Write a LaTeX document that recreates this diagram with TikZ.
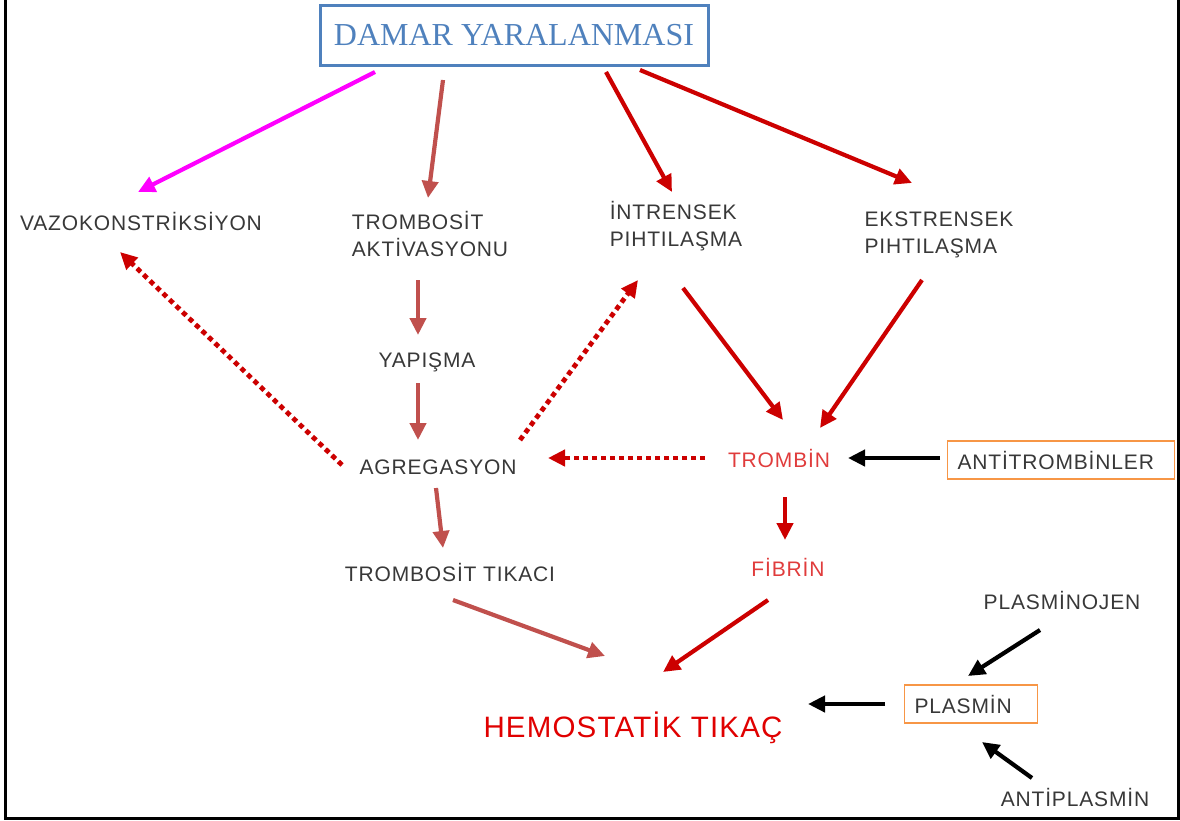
\documentclass[tikz,border=0pt]{standalone}
\usepackage{fontspec}
\newfontfamily\etiket{Liberation Sans}[LetterSpace=4]
\newfontfamily\baslik{Liberation Serif}
\usepackage{tikz}
\usetikzlibrary{arrows.meta,calc}

\definecolor{mavi}{HTML}{4F81BD}
\definecolor{pembe}{HTML}{FF00FF}
\definecolor{somon}{HTML}{C0504D}
\definecolor{kirmizi}{HTML}{CC0000}
\definecolor{acikkirmizi}{HTML}{E03C3C}
\definecolor{turuncu}{HTML}{F79646}
\definecolor{gri}{HTML}{383838}

\tikzset{
	etk/.style={font=\etiket\fontsize{21}{27}\selectfont, text=gri, inner sep=0pt, align=left},
	kutu/.style={etk, draw=turuncu, line width=1.5pt, inner xsep=10pt, minimum height=38pt},
	ok/.style={line width=4.2pt, -{Triangle[length=17pt,width=16pt]}},
	nok/.style={ok, kirmizi, line width=4.8pt, dash pattern=on 5pt off 4pt}
}

\begin{document}
\begin{tikzpicture}[x=1pt,y=-1pt]
	\useasboundingbox (0,0) rectangle (1180,820);
	\draw[line width=3pt] (5,0) -- (5,818) -- (1178,818) -- (1178,0);

	\node[draw=mavi, line width=3pt, minimum width=388pt, minimum height=60pt, text=mavi, font=\baslik\fontsize{32}{32}\selectfont] (hasar) at (514,35) {DAMAR YARALANMASI};

	\node[etk] (vazo) at (141,221) {VAZOKONSTR\.IKS\.IYON};
	\node[etk] (aktiv) at (430,234) {TROMBOS\.IT\\AKT\.IVASYONU};
	\node[etk] (intr) at (676,226) {\.INTRENSEK\\PIHTILAŞMA};
	\node[etk] (ekst) at (939,235) {EKSTRENSEK\\PIHTILAŞMA};
	\node[etk] (yap) at (427,362) {YAPIŞMA};
	\node[etk] (agr) at (438,467) {AGREGASYON};
	\node[etk, text=acikkirmizi] (trombin) at (779,458) {TROMB\.IN};
	\node[kutu, text width=207pt] (antitr) at (1061,460) {ANT\.ITROMB\.INLER};
	\node[etk] (tikaci) at (450,572) {TROMBOS\.IT TIKACI};
	\node[etk, text=acikkirmizi] (fibrin) at (788,567) {F\.IBR\.IN};
	\node[etk] (plasminojen) at (1062,600) {PLASM\.INOJEN};
	\node[kutu, text width=113pt] (plasmin) at (971,704) {PLASM\.IN};
	\node[etk] (antiplasmin) at (1075,797) {ANT\.IPLASM\.IN};
	\node[etk, text=red!88!black, font=\etiket\fontsize{29.5}{30}\selectfont] (hemo) at (633,728) {HEMOSTAT\.IK TIKAÇ};

	\draw[ok, pembe] ($(hasar)+(-139,37)$) -- ($(vazo)+(-3,-29)$);
	\draw[ok, somon] ($(hasar)+(-71,45)$) -- ($(aktiv)+(-2,-36)$);
	\draw[ok, kirmizi] ($(hasar)+(92,37)$) -- ($(intr)+(-4,-34)$);
	\draw[ok, kirmizi] ($(hasar)+(126,35)$) -- ($(ekst)+(-27,-52)$);

	\draw[ok, somon] ($(aktiv)+(-12,46)$) -- ($(yap)+(-9,-27)$);
	\draw[ok, somon] ($(yap)+(-9,21)$) -- ($(agr)+(-20,-27)$);
	\draw[nok] ($(agr)+(-96,-2)$) -- ($(vazo)+(-21,31)$);
	\draw[nok] ($(agr)+(82,-27)$) -- ($(intr)+(-38,54)$);

	\draw[ok, kirmizi] ($(intr)+(7,62)$) -- ($(trombin)+(4,-38)$);
	\draw[ok, kirmizi] ($(ekst)+(-17,45)$) -- ($(trombin)+(41,-30)$);
	\draw[nok] ($(trombin)+(-74,0)$) -- ($(agr)+(110,-9)$);
	\draw[ok] ($(antitr)+(-121,-2)$) -- ($(trombin)+(69,0)$);
	\draw[ok, kirmizi] ($(trombin)+(6,39)$) -- ($(fibrin)+(-3,-27)$);

	\draw[ok, somon] ($(agr)+(-2,21)$) -- ($(tikaci)+(-7,-24)$);
	\draw[ok, somon] ($(tikaci)+(3,28)$) -- ($(hemo)+(-28,-72)$);
	\draw[ok, kirmizi] ($(fibrin)+(-20,33)$) -- ($(hemo)+(30,-56)$);

	\draw[ok] ($(plasmin)+(-86,0)$) -- ($(hemo)+(175,-24)$);
	\draw[ok] ($(plasminojen)+(-22,30)$) -- ($(plasmin)+(-3,-28)$);
	\draw[ok] ($(antiplasmin)+(-43,-19)$) -- ($(plasmin)+(11,38)$);
\end{tikzpicture}
\end{document}
